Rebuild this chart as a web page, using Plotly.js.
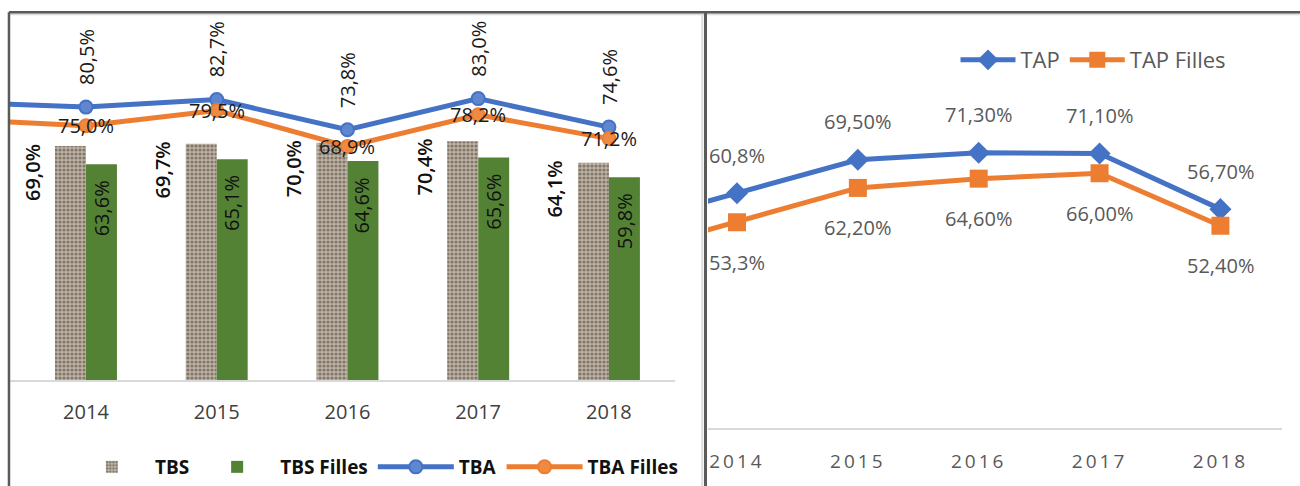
<!DOCTYPE html>
<html>
<head>
<meta charset="utf-8">
<script src="https://cdn.plot.ly/plotly-3.0.1.min.js"></script>
<style>
  html, body { margin: 0; padding: 0; background: #ffffff; }
  #chart { width: 1300px; height: 486px; }
</style>
</head>
<body>
<div id="chart"></div>
<script>
// ---- data ----
const barYears = [2014, 2015, 2016, 2017, 2018];
const tickLabels = ['2014', '2015', '2016', '2017', '2018'];
const tbs = [69.0, 69.7, 70.0, 70.4, 64.1];
const tbsFilles = [63.6, 65.1, 64.6, 65.6, 59.8];

// lines continue from the (cropped) previous year on the left edge
const lineYears = [2013, 2014, 2015, 2016, 2017, 2018];
const tba = [81.9, 80.5, 82.7, 73.8, 83.0, 74.6];
const tbaFilles = [76.9, 75.0, 79.5, 68.9, 78.2, 71.2];
const tap = [52.2, 60.8, 69.5, 71.3, 71.1, 56.7];
const tapFilles = [44.7, 53.3, 62.2, 64.6, 66.0, 52.4];
const tapLabels = ['', '60,8%', '69,50%', '71,30%', '71,10%', '56,70%'];
const tapFillesLabels = ['', '53,3%', '62,20%', '64,60%', '66,00%', '52,40%'];

// ---- styles ----
const FONT = 'Open Sans, Liberation Sans, sans-serif';
const BLUE = '#4472C4', ORANGE = '#ED7D31', GREEN = '#548235';
const fmt = v => v.toFixed(1).replace('.', ',') + '%';

const traces = [
  {
    type: 'bar', name: 'TBS', x: barYears, y: tbs, xaxis: 'x', yaxis: 'y',
    marker: { color: '#b0a596', line: { width: 0 },
      pattern: { shape: '.', fgcolor: '#82776a', bgcolor: '#bfb5a7', size: 4, solidity: 0.5 } },
    legend: 'legend', hoverinfo: 'skip'
  },
  {
    type: 'bar', name: 'TBS Filles', x: barYears, y: tbsFilles, xaxis: 'x', yaxis: 'y',
    marker: { color: GREEN, line: { width: 0 } },
    legend: 'legend', hoverinfo: 'skip'
  },
  {
    type: 'scatter', mode: 'lines+markers', name: 'TBA', x: lineYears, y: tba, xaxis: 'x', yaxis: 'y',
    line: { color: BLUE, width: 5 },
    marker: { symbol: 'circle', size: 13, color: '#5f87cf', line: { color: BLUE, width: 2 } },
    legend: 'legend', hoverinfo: 'skip'
  },
  {
    type: 'scatter', mode: 'lines+markers', name: 'TBA Filles', x: lineYears, y: tbaFilles, xaxis: 'x', yaxis: 'y',
    line: { color: ORANGE, width: 5 },
    marker: { symbol: 'circle', size: 13, color: '#ef8a43', line: { color: ORANGE, width: 2 } },
    legend: 'legend', hoverinfo: 'skip'
  },
  {
    type: 'scatter', mode: 'lines+markers', name: 'TAP', x: lineYears, y: tap, xaxis: 'x2', yaxis: 'y2',
    line: { color: BLUE, width: 5 },
    marker: { symbol: 'diamond', size: 17, color: BLUE },
    legend: 'legend2', hoverinfo: 'skip'
  },
  {
    type: 'scatter', mode: 'lines+markers', name: 'TAP Filles', x: lineYears, y: tapFilles, xaxis: 'x2', yaxis: 'y2',
    line: { color: ORANGE, width: 5 },
    marker: { symbol: 'square', size: 18, color: ORANGE },
    legend: 'legend2', hoverinfo: 'skip'
  }
];

// ---- data labels ----
const annotations = [];
barYears.forEach((yr, i) => {
  const j = lineYears.indexOf(yr);
  annotations.push({ xref: 'x', yref: 'y', x: yr, y: tbs[i], xshift: -54, yshift: -26,
    text: fmt(tbs[i]), textangle: -90, showarrow: false,
    font: { family: FONT, size: 20, color: '#111111', weight: 600 } });
  annotations.push({ xref: 'x', yref: 'y', x: yr, y: tbsFilles[i], xshift: 15, yshift: -44,
    text: fmt(tbsFilles[i]), textangle: -90, showarrow: false,
    font: { family: FONT, size: 20, color: '#111111' } });
  annotations.push({ xref: 'x', yref: 'y', x: yr, y: tba[j], yshift: 50,
    text: fmt(tba[j]), textangle: -90, showarrow: false,
    font: { family: FONT, size: 20, color: '#1a1a1a' } });
  annotations.push({ xref: 'x', yref: 'y', x: yr, y: tbaFilles[j], yshift: 0,
    text: fmt(tbaFilles[j]), showarrow: false,
    font: { family: FONT, size: 20, color: '#1a1a1a' } });
  annotations.push({ xref: 'x2', yref: 'y2', x: yr, y: tap[j], yshift: 38,
    text: tapLabels[j], showarrow: false,
    font: { family: FONT, size: 20, color: '#595959' } });
  annotations.push({ xref: 'x2', yref: 'y2', x: yr, y: tapFilles[j], yshift: -40,
    text: tapFillesLabels[j], showarrow: false,
    font: { family: FONT, size: 20, color: '#595959' } });
});

// ---- frame lines ----
const shapes = [
  { type: 'line', xref: 'paper', yref: 'paper', x0: 0.0069, x1: 1, y0: 0.9705, y1: 0.9705, line: { color: '#dcdcdc', width: 2 } },
  { type: 'line', xref: 'paper', yref: 'paper', x0: 0.0069, x1: 1, y0: 0.9748, y1: 0.9748, line: { color: '#5a5a5a', width: 2.5 } },
  { type: 'line', xref: 'paper', yref: 'paper', x0: 0.0069, x1: 0.0069, y0: 0, y1: 0.9748, line: { color: '#5a5a5a', width: 2.5 } },
  { type: 'line', xref: 'paper', yref: 'paper', x0: 0.5402, x1: 0.5402, y0: 0, y1: 0.9705, line: { color: '#dcdcdc', width: 2 } },
  { type: 'line', xref: 'paper', yref: 'paper', x0: 0.5427, x1: 0.5427, y0: 0, y1: 0.9748, line: { color: '#5a5a5a', width: 3 } }
];

const layout = {
  width: 1300, height: 486,
  margin: { l: 0, r: 0, t: 0, b: 0 },
  paper_bgcolor: '#ffffff', plot_bgcolor: 'rgba(0,0,0,0)',
  font: { family: FONT },
  barmode: 'group', bargap: 0.526, bargroupgap: 0,
  showlegend: true,
  xaxis: {
    domain: [0.00769, 0.5192], range: [2013.419, 2018.505],
    tickvals: barYears, ticktext: tickLabels, ticks: '', ticklabelstandoff: 13,
    tickfont: { family: FONT, size: 20, color: '#404040' },
    showline: true, linecolor: '#d9d9d9', linewidth: 2, showgrid: false, zeroline: false,
    anchor: 'y', fixedrange: true
  },
  yaxis: {
    domain: [0.2181, 0.9506], range: [0, 105],
    showticklabels: false, showgrid: false, zeroline: false, showline: false, anchor: 'x', fixedrange: true
  },
  xaxis2: {
    domain: [0.5446, 0.9862], range: [2013.76, 2018.51],
    tickvals: barYears, ticktext: tickLabels, ticks: '', ticklabelstandoff: 15,
    tickfont: { family: FONT, size: 19, color: '#595959' },
    showline: true, linecolor: '#d9d9d9', linewidth: 2, showgrid: false, zeroline: false,
    anchor: 'y2', fixedrange: true
  },
  yaxis2: {
    domain: [0.1193, 0.9136], range: [0, 100],
    showticklabels: false, showgrid: false, zeroline: false, showline: false, anchor: 'x2', fixedrange: true
  },
  legend: {
    orientation: 'h', x: 0.053, xanchor: 'left', y: 0.039, yanchor: 'middle',
    font: { family: FONT, size: 19, color: '#111111', weight: 'bold' },
    itemwidth: 76, bgcolor: 'rgba(0,0,0,0)', traceorder: 'normal'
  },
  legend2: {
    orientation: 'h', x: 0.735, xanchor: 'left', y: 0.8765, yanchor: 'middle',
    font: { family: FONT, size: 22, color: '#595959' },
    itemwidth: 55, bgcolor: 'rgba(0,0,0,0)', traceorder: 'normal'
  },
  annotations: annotations,
  shapes: shapes
};

Plotly.newPlot('chart', traces, layout, { displayModeBar: false, staticPlot: true }).then(() => {
  document.querySelectorAll('.x2tick text').forEach(t => { t.style.letterSpacing = '3px'; });
});
</script>
</body>
</html>
